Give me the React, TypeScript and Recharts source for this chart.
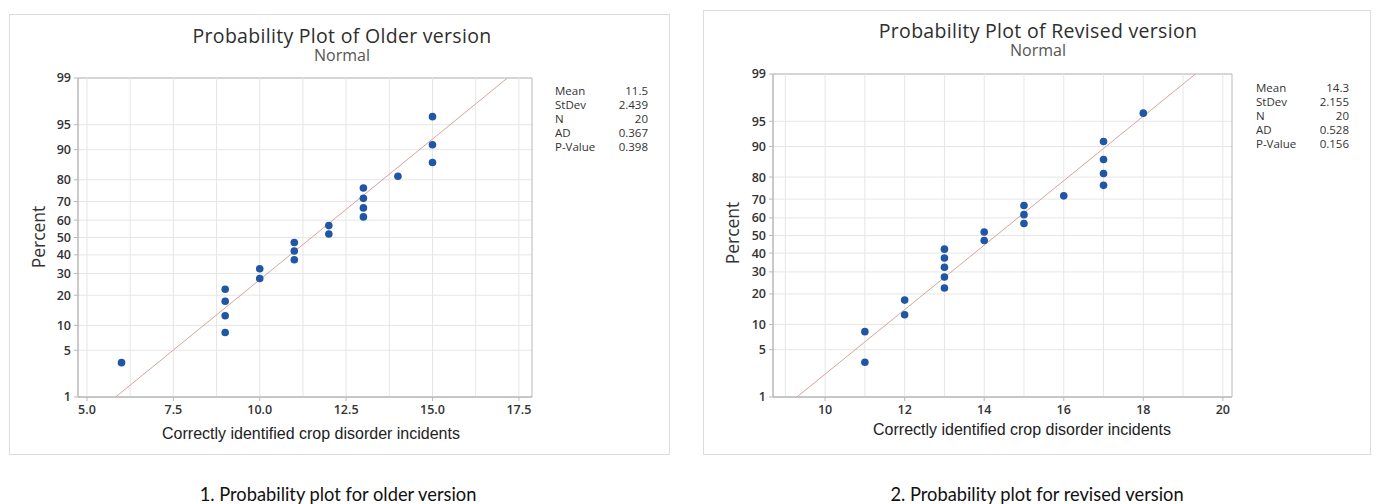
import React from "react";
import {
  CartesianGrid,
  ReferenceArea,
  ReferenceLine,
  Scatter,
  ScatterChart,
  XAxis,
  YAxis,
} from "recharts";

// --- data ------------------------------------------------------------------
const olderX = [6, 9, 9, 9, 9, 10, 10, 11, 11, 11, 12, 12, 13, 13, 13, 13, 14, 15, 15, 15];
const revisedX = [11, 11, 12, 12, 13, 13, 13, 13, 13, 14, 14, 15, 15, 15, 16, 17, 17, 17, 17, 18];
const plotPct = [3.4, 8.3, 12.7, 17.6, 22.5, 27.5, 32.4, 37.3, 42.2, 47.1, 52.0, 56.9, 61.8, 66.7, 71.6, 76.5, 81.4, 86.3, 91.2, 96.1];

const olderFitX = [5.83, 17.17];
const revisedFitX = [9.29, 19.31];
const fitPct = [1, 99];

const yTickPct = [1, 5, 10, 20, 30, 40, 50, 60, 70, 80, 90, 95, 99];
const olderXTicks = [5, 7.5, 10, 12.5, 15, 17.5];
const olderXGrid = [5, 6.25, 7.5, 8.75, 10, 11.25, 12.5, 13.75, 15, 16.25, 17.5];
const revisedXTicks = [10, 12, 14, 16, 18, 20];
const revisedXGrid = [9, 10, 11, 12, 13, 14, 15, 16, 17, 18, 19, 20];

const olderStats = [
  ["Mean", "11.5"],
  ["StDev", "2.439"],
  ["N", "20"],
  ["AD", "0.367"],
  ["P-Value", "0.398"],
];
const revisedStats = [
  ["Mean", "14.3"],
  ["StDev", "2.155"],
  ["N", "20"],
  ["AD", "0.528"],
  ["P-Value", "0.156"],
];

// normal probability scale: percent -> z (Acklam's approximation)
function normInv(p: number) {
  const a = [-3.969683028665376e1, 2.209460984245205e2, -2.759285104469687e2, 1.38357751867269e2, -3.066479806614716e1, 2.506628277459239];
  const b = [-5.447609879822406e1, 1.615858368580409e2, -1.556989798598866e2, 6.680131188771972e1, -1.328068155288572e1];
  const c = [-7.784894002430293e-3, -3.223964580411365e-1, -2.400758277161838, -2.549671035506888, 4.374664141464968, 2.938163982698783];
  const d = [7.784695709041462e-3, 3.224671290700398e-1, 2.445134137142996, 3.754408661907416];
  const pl = 0.02425;
  if (p < pl) {
    const q = Math.sqrt(-2 * Math.log(p));
    return (((((c[0] * q + c[1]) * q + c[2]) * q + c[3]) * q + c[4]) * q + c[5]) /
      ((((d[0] * q + d[1]) * q + d[2]) * q + d[3]) * q + 1);
  }
  if (p <= 1 - pl) {
    const q = p - 0.5;
    const r = q * q;
    return ((((((a[0] * r + a[1]) * r + a[2]) * r + a[3]) * r + a[4]) * r + a[5]) * q) /
      (((((b[0] * r + b[1]) * r + b[2]) * r + b[3]) * r + b[4]) * r + 1);
  }
  const q = Math.sqrt(-2 * Math.log(1 - p));
  return -(((((c[0] * q + c[1]) * q + c[2]) * q + c[3]) * q + c[4]) * q + c[5]) /
    ((((d[0] * q + d[1]) * q + d[2]) * q + d[3]) * q + 1);
}

const zOf = (pct: number) => normInv(pct / 100);
const yTicks = yTickPct.map(zOf);
const Z_MIN = zOf(1);
const Z_MAX = zOf(99);

const pctLabel = (v: number) => {
  const i = yTicks.findIndex((t) => Math.abs(t - v) < 1e-6);
  return i >= 0 ? String(yTickPct[i]) : "";
};

const UI = '"Open Sans", "Noto Sans", sans-serif';
const ARIAL = '"Liberation Sans", Arial, sans-serif';
const INK = "#333333";
const GRID = "#e6e6e6";
const FRAME = "#b8b8b8";
const DOT = "#1f56a6";
const FIT = "#d9a29d";

type PanelProps = {
  left: number;
  top: number;
  width: number;
  height: number;
  plot: { left: number; top: number; right: number; bottom: number };
  title: string;
  titleX: number;
  titleY: number;
  normalY: number;
  xs: number[];
  fitX: number[];
  xDomain: [number, number];
  xTicks: number[];
  xGrid: number[];
  xFormat: (v: number) => string;
  stats: string[][];
  statsX: number;
  statsRight: number;
  statsY: number;
  xLabelX: number;
};

function ProbPanel(p: PanelProps) {
  const points = p.xs.map((x, i) => ({ x, z: zOf(plotPct[i]) }));
  const fit = p.fitX.map((x, i) => ({ x, z: zOf(fitPct[i]) }));
  const yAxisW = 40;
  const xAxisH = 30;
  const tick = { fill: INK, fontSize: 12.5, fontFamily: UI, fontWeight: 600 };

  return (
    <div
      style={{
        position: "absolute",
        left: p.left,
        top: p.top,
        width: p.width,
        height: p.height,
        border: "1px solid #dcdcdc",
        boxSizing: "border-box",
        background: "#fff",
      }}
    >
      <ScatterChart
        width={p.width - 2}
        height={p.height - 2}
        margin={{
          top: p.plot.top,
          right: p.plot.right,
          bottom: p.plot.bottom - xAxisH,
          left: p.plot.left - yAxisW,
        }}
      >
        <CartesianGrid stroke={GRID} vertical={false} />
        {p.xGrid.map((g) => (
          <ReferenceLine key={g} x={g} stroke={GRID} strokeWidth={1} />
        ))}
        <XAxis
          type="number"
          dataKey="x"
          domain={p.xDomain}
          allowDataOverflow
          ticks={p.xTicks}
          interval={0}
          tickFormatter={p.xFormat}
          tick={tick}
          tickSize={4}
          tickMargin={4}
          tickLine={{ stroke: FRAME }}
          axisLine={{ stroke: FRAME }}
          height={xAxisH}
        />
        <YAxis
          type="number"
          dataKey="z"
          domain={[Z_MIN, Z_MAX]}
          allowDataOverflow
          ticks={yTicks}
          interval={0}
          tickFormatter={pctLabel}
          tick={tick}
          tickSize={4}
          tickMargin={3}
          tickLine={{ stroke: FRAME }}
          axisLine={{ stroke: FRAME }}
          width={yAxisW}
        />
        <ReferenceArea
          x1={p.xDomain[0]}
          x2={p.xDomain[1]}
          y1={Z_MIN}
          y2={Z_MAX}
          fill="none"
          stroke={FRAME}
          strokeWidth={1}
        />
        <Scatter
          data={fit}
          line={{ stroke: FIT, strokeWidth: 1 }}
          shape={() => <g />}
          isAnimationActive={false}
        />
        <Scatter
          data={points}
          shape={(s: any) => <circle cx={s.cx} cy={s.cy} r={3.8} fill={DOT} />}
          isAnimationActive={false}
        />
      </ScatterChart>

      <div
        style={{
          position: "absolute",
          left: p.titleX - 250,
          width: 500,
          top: p.titleY - 9,
          lineHeight: "18px",
          textAlign: "center",
          fontFamily: UI,
          fontSize: 19.5,
          color: "#2e2e2e",
          letterSpacing: 0.3,
        }}
      >
        {p.title}
      </div>
      <div
        style={{
          position: "absolute",
          left: p.titleX - 250,
          width: 500,
          top: p.normalY - 5,
          lineHeight: "14px",
          textAlign: "center",
          fontFamily: UI,
          fontSize: 16,
          color: "#555",
        }}
      >
        Normal
      </div>

      <div
        style={{
          position: "absolute",
          left: p.statsX,
          width: p.statsRight - p.statsX,
          top: p.statsY - 7,
          fontFamily: UI,
          fontSize: 11.5,
          color: INK,
        }}
      >
        {p.stats.map(([k, v]) => (
          <div key={k} style={{ display: "flex", justifyContent: "space-between", lineHeight: "14px", height: 14 }}>
            <span>{k}</span>
            <span>{v}</span>
          </div>
        ))}
      </div>

      <div
        style={{
          position: "absolute",
          left: 28 - 50,
          top: 222 - 10,
          width: 100,
          lineHeight: "20px",
          textAlign: "center",
          transform: "rotate(-90deg)",
          fontFamily: UI,
          fontSize: 17.5,
          color: INK,
        }}
      >
        Percent
      </div>

      <div
        style={{
          position: "absolute",
          left: p.xLabelX - 250,
          width: 500,
          top: 419 - 10,
          lineHeight: "20px",
          textAlign: "center",
          fontFamily: ARIAL,
          fontSize: 16,
          color: "#222",
        }}
      >
        Correctly identified crop disorder incidents
      </div>
    </div>
  );
}

const caption = (text: string, cx: number) => (
  <div
    style={{
      position: "absolute",
      left: cx - 250,
      width: 500,
      top: 483,
      lineHeight: "22px",
      textAlign: "center",
      fontFamily: '"Lato", "Open Sans", sans-serif',
      fontSize: 18.3,
      color: "#111",
    }}
  >
    {text}
  </div>
);

export default function App() {
  return (
    <div
      style={{
        position: "absolute",
        left: 0,
        top: 0,
        width: 1376,
        height: 504,
        background: "#fff",
        overflow: "hidden",
      }}
    >
      <ProbPanel
        left={9}
        top={14}
        width={661}
        height={441}
        plot={{ left: 68, top: 63, right: 137, bottom: 57 }}
        title="Probability Plot of Older version"
        titleX={332}
        titleY={21}
        normalY={38}
        xs={olderX}
        fitX={olderFitX}
        xDomain={[4.74, 17.88]}
        xTicks={olderXTicks}
        xGrid={olderXGrid}
        xFormat={(v) => v.toFixed(1)}
        stats={olderStats}
        statsX={545}
        statsRight={638}
        statsY={76}
        xLabelX={301}
      />
      <ProbPanel
        left={703}
        top={10}
        width={668}
        height={445}
        plot={{ left: 69, top: 63, right: 138, bottom: 57 }}
        title="Probability Plot of Revised version"
        titleX={334}
        titleY={20}
        normalY={37}
        xs={revisedX}
        fitX={revisedFitX}
        xDomain={[8.69, 20.23]}
        xTicks={revisedXTicks}
        xGrid={revisedXGrid}
        xFormat={(v) => String(v)}
        stats={revisedStats}
        statsX={552}
        statsRight={645}
        statsY={77}
        xLabelX={318}
      />
      {caption("1. Probability plot for older version", 338)}
      {caption("2. Probability plot for revised version", 1037)}
    </div>
  );
}
